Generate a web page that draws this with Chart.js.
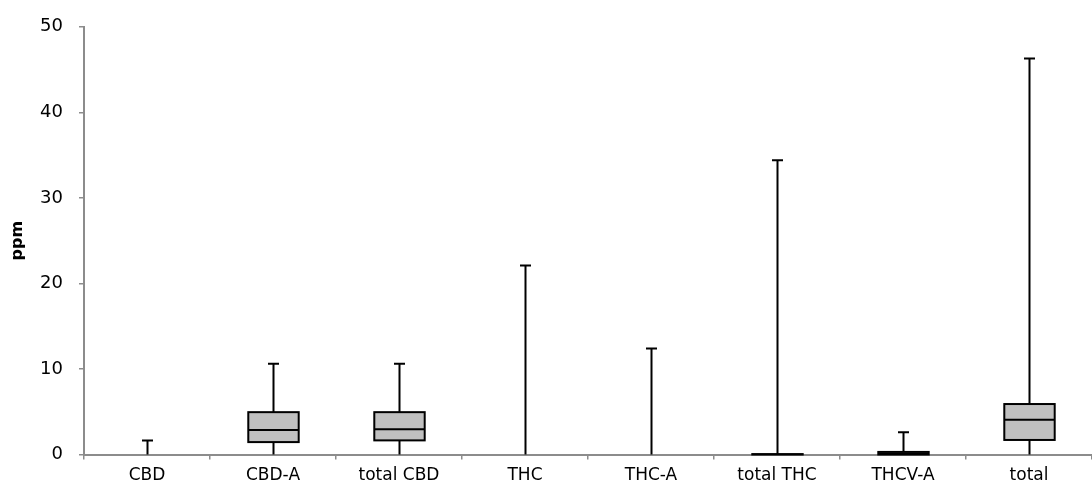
<!DOCTYPE html>
<html>
<head>
<meta charset="utf-8">
<script src="https://cdn.jsdelivr.net/npm/chart.js@4.4.1/dist/chart.umd.min.js"></script>
<style>
  body { margin: 0; background: #fff; }
  #wrap { width: 1092px; height: 494px; }
</style>
</head>
<body>
<div id="wrap"><canvas id="boxChart" width="1092" height="494"></canvas></div>
<script>
// box plot summary per compound (ppm)
const categories = ["CBD", "CBD-A", "total CBD", "THC", "THC-A", "total THC", "THCV-A", "total"];
const whiskerMin = [0, 0, 0, 0, 0, 0, 0, 0];
const q1 = [0, 1.45, 1.65, 0, 0, 0, 0, 1.7];
const median = [0, 2.85, 2.95, 0, 0, 0, 0.1, 4.05];
const q3 = [0, 4.95, 4.95, 0, 0, 0.05, 0.3, 5.9];
const whiskerMax = [1.65, 10.6, 10.6, 22.1, 12.4, 34.4, 2.6, 46.3];
const yTicks = [0, 10, 20, 30, 40, 50];

const axisGray = "#8c8c8c";
const fontFamily = "'DejaVu Sans', Verdana, sans-serif";

// whiskers, box outlines and medians on top of the filled bars
const boxPlotLines = {
  id: "boxPlotLines",
  afterDatasetsDraw(chart) {
    const ctx = chart.ctx;
    const x = chart.scales.x;
    const y = chart.scales.y;
    const meta = chart.getDatasetMeta(0);
    ctx.save();
    ctx.strokeStyle = "#000";
    ctx.lineWidth = 2;
    categories.forEach((c, i) => {
      const cx = Math.round(x.getPixelForValue(i)) + 0.5;
      const half = meta.data[i].width / 2;
      const yMin = y.getPixelForValue(whiskerMin[i]);
      const yQ1 = y.getPixelForValue(q1[i]);
      const yMed = y.getPixelForValue(median[i]);
      const yQ3 = y.getPixelForValue(q3[i]);
      const yMax = y.getPixelForValue(whiskerMax[i]);

      ctx.beginPath();
      ctx.moveTo(cx, yQ3);
      ctx.lineTo(cx, yMax);
      ctx.moveTo(cx - 5.5, yMax);
      ctx.lineTo(cx + 5.5, yMax);
      if (yMin > yQ1) {
        ctx.moveTo(cx, yQ1);
        ctx.lineTo(cx, yMin);
      }
      ctx.stroke();

      if (q3[i] > q1[i]) {
        ctx.strokeRect(cx - half, yQ3, half * 2, yQ1 - yQ3);
        if (median[i] > q1[i]) {
          ctx.beginPath();
          ctx.moveTo(cx - half, yMed);
          ctx.lineTo(cx + half, yMed);
          ctx.stroke();
        }
      }
    });
    ctx.restore();
  }
};

new Chart(document.getElementById("boxChart"), {
  type: "bar",
  data: {
    labels: categories,
    datasets: [{
      label: "IQR",
      data: categories.map((c, i) => [q1[i], q3[i]]),
      backgroundColor: "#c0c0c0",
      borderWidth: 0,
      barPercentage: 0.4,
      categoryPercentage: 1.0
    }]
  },
  options: {
    responsive: false,
    animation: false,
    layout: { padding: { top: 20, right: -6, left: 0, bottom: 0 } },
    plugins: {
      legend: { display: false },
      tooltip: { enabled: false }
    },
    scales: {
      x: {
        grid: {
          display: true,
          drawOnChartArea: false,
          drawTicks: true,
          tickLength: 5,
          color: axisGray,
          lineWidth: 1.5,
          offset: true
        },
        border: { color: axisGray, width: 2 },
        ticks: {
          color: "#000",
          padding: 6,
          font: { family: fontFamily, size: 17 },
          maxRotation: 0,
          autoSkip: false
        },
        afterFit(scale) { scale.height = 39.5; }
      },
      y: {
        min: 0,
        max: 50,
        afterBuildTicks(scale) {
          scale.ticks = yTicks.map(v => ({ value: v }));
        },
        grid: {
          display: true,
          drawOnChartArea: false,
          drawTicks: true,
          tickLength: 5,
          color: axisGray,
          lineWidth: 1.5
        },
        border: { color: axisGray, width: 2 },
        ticks: {
          color: "#000",
          padding: 16,
          font: { family: fontFamily, size: 18 }
        },
        title: {
          display: true,
          text: "ppm",
          color: "#000",
          padding: { top: 8, bottom: 0 },
          font: { family: fontFamily, size: 16, weight: "bold" }
        },
        afterFit(scale) { scale.width = 84; }
      }
    }
  },
  plugins: [boxPlotLines]
});
</script>
</body>
</html>
